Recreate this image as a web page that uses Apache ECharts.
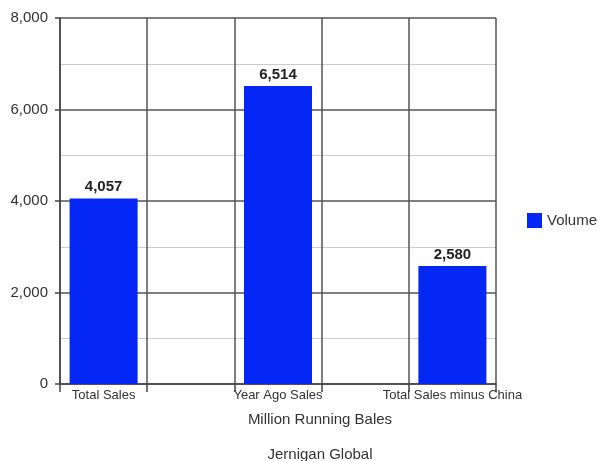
<!DOCTYPE html>
<html>
<head>
<meta charset="utf-8">
<script src="https://cdn.jsdelivr.net/npm/echarts@6/dist/echarts.min.js"></script>
<style>html,body{margin:0;padding:0;background:#fff}#c{width:600px;height:461px}</style>
</head>
<body>
<div id="c"></div>
<script>
const categories = ["Total Sales", "Year Ago Sales", "Total Sales minus China"];
const volume = [4057, 6514, 2580];
const yTicks = [0, 2000, 4000, 6000, 8000];
const seriesName = "Volume";
const xTitle = "Million Running Bales";
const footer = "Jernigan Global";

// interleave empty slots between categories (reference shows gaps between bars)
const slots = [];
const slotValues = [];
categories.forEach((c, i) => {
  if (i > 0) { slots.push(""); slotValues.push("-"); }
  slots.push(c); slotValues.push(volume[i]);
});

const fmt = v => v.toLocaleString("en-US");
const font = "Liberation Sans, Arial, sans-serif";
const chart = echarts.init(document.getElementById("c"), null, {renderer: "canvas"});
chart.setOption({
  animation: false,
  textStyle: {fontFamily: font},
  grid: {left: 60, right: 104, top: 18, bottom: 77, containLabel: false},
  legend: {
    data: [seriesName], left: 522, top: 208, orient: "vertical",
    icon: "rect", itemWidth: 15, itemHeight: 15, itemGap: 5,
    textStyle: {fontSize: 15, color: "#333", fontFamily: font}
  },
  graphic: [
    {type: "text", x: 320, y: 412, style: {text: xTitle, font: "15px " + font, fill: "#333", textAlign: "center"}},
    {type: "text", x: 320, y: 447, style: {text: footer, font: "15px " + font, fill: "#333", textAlign: "center"}}
  ],
  xAxis: {
    type: "category", data: slots, boundaryGap: true,
    axisLine: {show: true, lineStyle: {color: "#444", width: 1.5}},
    axisTick: {show: true, alignWithLabel: false, length: 8, lineStyle: {color: "#444", width: 1.5}},
    axisLabel: {interval: 0, fontSize: 13, color: "#333", margin: 5, fontFamily: font},
    splitLine: {show: true, lineStyle: {color: "#555", width: 1.5}}
  },
  yAxis: {
    type: "value", min: yTicks[0], max: yTicks[yTicks.length - 1], interval: 2000,
    axisLine: {show: true, lineStyle: {color: "#444", width: 1.5}},
    axisTick: {show: true, length: 5, lineStyle: {color: "#444", width: 1.5}},
    axisLabel: {fontSize: 15, color: "#333", margin: 12, formatter: fmt, fontFamily: font},
    splitLine: {show: true, lineStyle: {color: "#555", width: 1.5}},
    minorTick: {show: false, splitNumber: 2},
    minorSplitLine: {show: true, lineStyle: {color: "#ccc", width: 1.2}}
  },
  series: [{
    name: seriesName, type: "bar", data: slotValues, barWidth: "78%",
    itemStyle: {color: "#0527F5"},
    label: {show: true, position: "top", distance: 4, fontSize: 15, fontWeight: "bold", color: "#222",
            formatter: p => fmt(p.value), fontFamily: font}
  }]
});
</script>
</body>
</html>
